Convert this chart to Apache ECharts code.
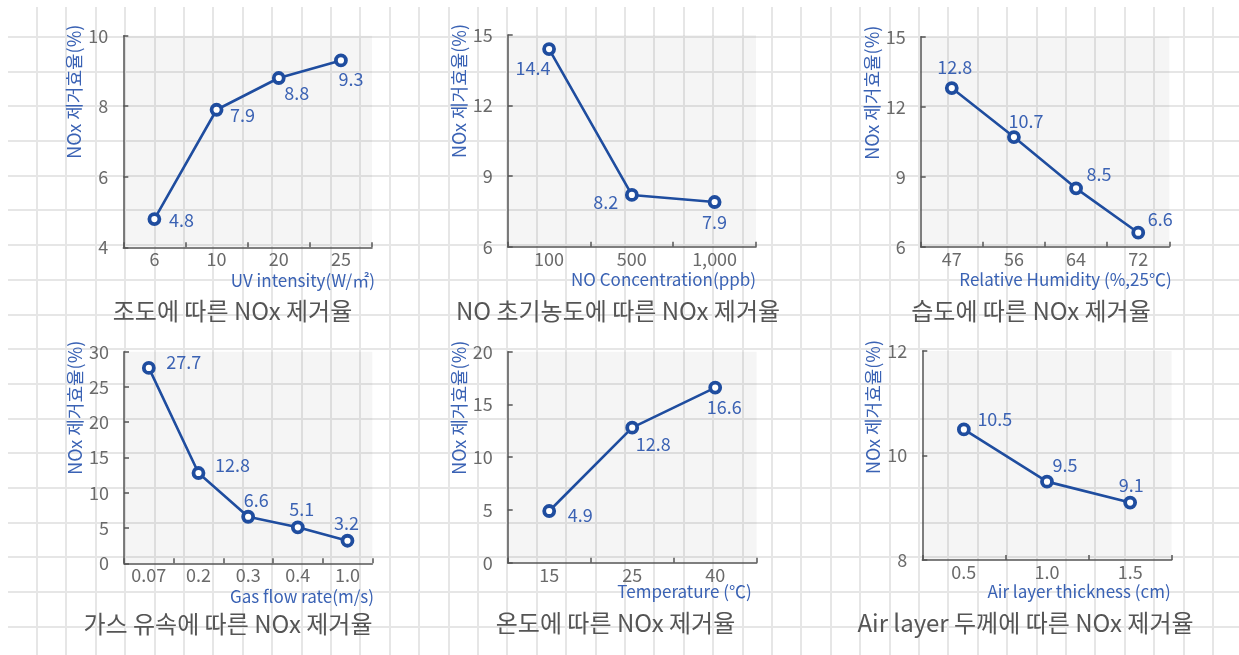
<!DOCTYPE html>
<html>
<head>
<meta charset="utf-8">
<script src="https://cdn.jsdelivr.net/npm/echarts@6/dist/echarts.min.js"></script>
<style>
    html, body { margin: 0; padding: 0; background: #fff; }
    #chart { width: 1239px; height: 655px; }
</style>
</head>
<body>
<div id="chart"></div>
<script>
    // chart values
    const uvCats = ['6', '10', '20', '25'];
    const uvVals = [4.8, 7.9, 8.8, 9.3];
    const noCats = ['100', '500', '1,000'];
    const noVals = [14.4, 8.2, 7.9];
    const rhCats = ['47', '56', '64', '72'];
    const rhVals = [12.8, 10.7, 8.5, 6.6];
    const flowCats = ['0.07', '0.2', '0.3', '0.4', '1.0'];
    const flowVals = [27.7, 12.8, 6.6, 5.1, 3.2];
    const tempCats = ['15', '25', '40'];
    const tempVals = [4.9, 12.8, 16.6];
    const airCats = ['0.5', '1.0', '1.5'];
    const airVals = [10.5, 9.5, 9.1];

    const titles = [
        '조도에 따른 NOx 제거율',
        'NO 초기농도에 따른 NOx 제거율',
        '습도에 따른 NOx 제거율',
        '가스 유속에 따른 NOx 제거율',
        '온도에 따른 NOx 제거율',
        'Air layer 두께에 따른 NOx 제거율'
    ];
    const xNames = [
        'UV intensity(W/㎡)',
        'NO Concentration(ppb)',
        'Relative Humidity (%,25℃)',
        'Gas flow rate(m/s)',
        'Temperature (℃)',
        'Air layer thickness (cm)'
    ];
    const yName = 'NOx 제거효율(%)';
    const yMins = [4, 6, 6, 0, 0, 8];
    const yMaxs = [10, 15, 15, 30, 20, 12];
    const ySteps = [2, 3, 3, 5, 5, 2];

    const cats = [uvCats, noCats, rhCats, flowCats, tempCats, airCats];
    const vals = [uvVals, noVals, rhVals, flowVals, tempVals, airVals];

    // layout of each panel (pixels)
    const frames = [
        { left: 123.3, top: 35.7, width: 248.7, height: 211.6, tx: 232.5, ty: 310.7, nEnd: 3, nDy: 33.4 },
        { left: 507.7, top: 35, width: 248.3, height: 211.7, tx: 618, ty: 310.7, nEnd: 0, nDy: 32.8 },
        { left: 920.7, top: 36.7, width: 248.6, height: 210, tx: 1031, ty: 310.7, nEnd: 2.4, nDy: 33.3 },
        { left: 124, top: 351.7, width: 248.3, height: 211.6, tx: 228, ty: 624, nEnd: 1.7, nDy: 33.7 },
        { left: 507.7, top: 351.7, width: 249, height: 211, tx: 615.5, ty: 623, nEnd: -5, nDy: 29 },
        { left: 922.3, top: 351, width: 249.4, height: 209, tx: 1025.5, ty: 623.3, nEnd: -1, nDy: 32 }
    ];
    // label centre relative to the point
    const labelOffsets = [
        [[27, 1], [26, 5], [18, 15], [10, 19]],
        [[-16, 19], [-26, 7], [0, 20]],
        [[3, -21], [12, -16], [23, -14], [22, -14]],
        [[35, -6], [34, -8], [8, -17], [4, -18], [-1, -18]],
        [[31, 4], [21, 16], [9, 20]],
        [[31, -10], [18, -16], [1, -17]]
    ];

    const FONT = "'Noto Sans CJK KR', 'Noto Sans', sans-serif";
    const FS = 18;
    const axisColor = '#555';
    const tickColor = '#6a6a6a';
    const nameColor = '#3a62b4';
    const lineColor = '#1f4d9f';
    const labelColor = '#3b62b3';
    const paperColor = '#e6e6e6';

    let chart = echarts.init(document.getElementById('chart'), null, { renderer: 'canvas' });

    let grid = [];
    let xAxis = [];
    let yAxis = [];
    let series = [];
    let title = [];

    for (let i = 0; i < 6; i++) {
        let f = frames[i];
        grid.push({
            left: f.left, top: f.top, width: f.width, height: f.height,
            show: true, backgroundColor: 'rgba(0,0,0,0.04)', borderWidth: 0,
            outerBoundsMode: 'none'
        });
        xAxis.push({
            type: 'category', gridIndex: i, data: cats[i], boundaryGap: true,
            axisLine: { lineStyle: { color: axisColor, width: 1.5 } },
            axisTick: { show: true, inside: true, length: 5, lineStyle: { color: axisColor, width: 1.5 } },
            axisLabel: { interval: 0, color: tickColor, fontSize: FS, lineHeight: FS, margin: 3, fontFamily: FONT },
            splitLine: { show: false },
            name: xNames[i], nameLocation: 'end', nameGap: f.nEnd, nameMoveOverlap: false,
            nameTextStyle: {
                color: nameColor, fontSize: 17, lineHeight: 17, fontFamily: FONT,
                align: 'right', verticalAlign: 'top', padding: [f.nDy - 8.5, 0, 0, 0]
            }
        });
        yAxis.push({
            type: 'value', gridIndex: i, min: yMins[i], max: yMaxs[i], interval: ySteps[i],
            axisLine: { show: true, lineStyle: { color: axisColor, width: 1.5 } },
            axisTick: { show: true, inside: true, length: 5, lineStyle: { color: axisColor, width: 1.5 } },
            axisLabel: { color: tickColor, fontSize: FS, lineHeight: FS, margin: 15, fontFamily: FONT },
            splitLine: { show: false },
            name: yName, nameLocation: 'end', nameRotate: 90, nameGap: 11, nameMoveOverlap: false,
            nameTextStyle: {
                color: nameColor, fontSize: FS, lineHeight: FS, fontFamily: FONT,
                align: 'right', verticalAlign: 'bottom', padding: [0, 0, 40, 0]
            }
        });
        series.push({
            type: 'line', xAxisIndex: i, yAxisIndex: i,
            data: vals[i].map((v, j) => ({ value: v, label: { offset: labelOffsets[i][j] } })),
            symbol: 'circle', symbolSize: 10, showAllSymbol: true,
            itemStyle: { color: '#fff', borderColor: lineColor, borderWidth: 3.8 },
            lineStyle: { color: lineColor, width: 2.6 },
            label: {
                show: true, position: 'inside', color: labelColor, fontSize: FS, lineHeight: FS,
                fontFamily: FONT, align: 'center', verticalAlign: 'middle',
                textBorderWidth: 0, textBorderColor: 'transparent'
            },
            emphasis: { disabled: true },
            z: 3
        });
        title.push({
            text: titles[i], left: f.tx, top: f.ty, padding: 0,
            textAlign: 'center', textVerticalAlign: 'middle',
            textStyle: { color: '#555', fontSize: 24, fontWeight: 'normal', fontFamily: FONT }
        });
    }

    // graph paper behind the panels
    grid.push({ left: 7.3, top: 7, width: 1234.8, height: 648, show: false, outerBoundsMode: 'none' });
    grid.push({ left: 8, top: 2, width: 1231, height: 659.3, show: false, outerBoundsMode: 'none' });
    let paperLine = { show: true, showMinLine: false, showMaxLine: false, lineStyle: { color: paperColor, width: 2 } };
    xAxis.push({
        type: 'value', gridIndex: 6, min: 0, max: 1234.8, interval: 29.4, z: -1,
        axisLine: { show: false }, axisTick: { show: false }, axisLabel: { show: false },
        splitLine: paperLine
    });
    yAxis.push({ type: 'value', gridIndex: 6, show: false });
    xAxis.push({ type: 'value', gridIndex: 7, show: false });
    yAxis.push({
        type: 'value', gridIndex: 7, inverse: true, min: 0, max: 659.3, interval: 34.7, z: -1,
        axisLine: { show: false }, axisTick: { show: false }, axisLabel: { show: false },
        splitLine: paperLine
    });

    let option = {
        animation: false,
        textStyle: { fontFamily: FONT },
        title: title,
        grid: grid,
        xAxis: xAxis,
        yAxis: yAxis,
        series: series
    };

    chart.setOption(option);
</script>
</body>
</html>
